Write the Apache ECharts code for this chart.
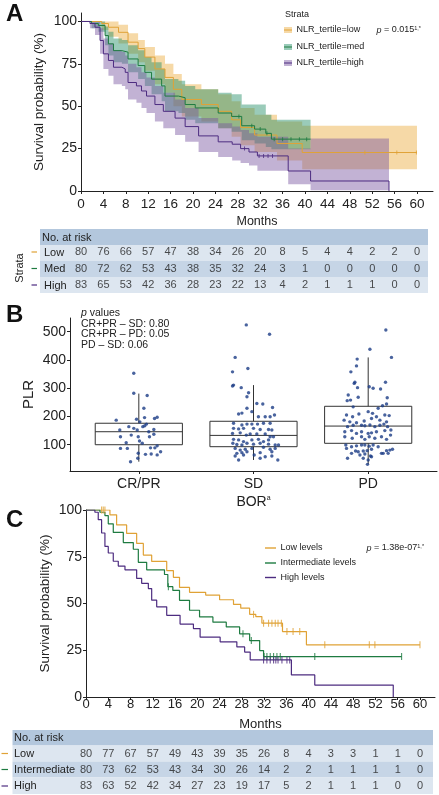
<!DOCTYPE html>
<html><head><meta charset="utf-8">
<script src="https://cdn.jsdelivr.net/npm/echarts@6/dist/echarts.min.js"></script>
<style>html,body{margin:0;padding:0;background:#fff}#c{width:439px;height:795px}</style>
</head><body><div id="c"></div>
<script>
// ---------- shared ----------
const monthTicks = [0,4,8,12,16,20,24,28,32,36,40,44,48,52,56,60];

// ---------- Panel A: KM by NLR tertile (with CI bands) ----------
const aLowTime  = [0,3.7,4.9,6.7,8.4,10.2,11.4,13.2,15,16.5,18,21.5,24.5,26.9,28.5,31,35,39.5,60];
const aLowSurv  = [100,98.8,96.6,93.6,87.8,84,79,72,67,60,54,51,47,42,37.5,33,28,22.7,22.7];
const aLowUpper = [100,100,100,98,93,89,85,80,75,69,63,60,57,53,49,45,41,38.5,38.5];
const aLowLower = [100,95,91,87,81,76,71,63,58,50,44,41,37,32,27,23,18,12.8,12.8];

const aMedTime  = [0,1.9,3.1,4.3,4.9,5.8,7.3,8.4,10.2,11.4,12.6,14.4,15,17.4,18.6,20.4,24.5,26.9,28.7,31,33,34,41];
const aMedSurv  = [100,98.8,97.6,91.7,86.8,82.8,81.9,77.9,74,70,66,62,56,55,51,49,46,44,38.5,36.5,34,30.6,30.6];
const aMedUpper = [100,100,100,97,94,90,89,86,83,79,76,72,66,65,62,60,58,57,51,51,45,42,42];
const aMedLower = [100,96,94,86,80,76,75,70,66,62,57,53,47,46,42,40,37,35,30,28,26,24.7,24.7];

const aHighTime  = [0,1.6,2.5,3.4,4,4.9,5.8,7.3,7.9,8.4,9.9,10.8,11.7,13.2,14.7,16.8,18.6,21,24.5,27,28.5,30,31.5,37,41,55];
const aHighSurv  = [100,98.8,96.6,88.8,80.9,77,73,72,70,64,62,59,56,51,47,43,38,32.5,29,27.6,25,23,20.7,11.8,5.9,0];
const aHighUpper = [100,100,100,96,90,87,83,82,80,75,73,70,67,62,58,54,49,43,40,38,36,34,32,25,31,31];
const aHighLower = [100,96,92,81,72,68,63,62,60,54,52,49,46,41,37,33,29,23,20,18,16.5,15,12,4,0.5,0];

const aLowCens  = [50.7,56.4,59.9];
const aMedCens  = [28.2,30.5,32,33.2,34.5,36,37.5,39,40.3];
const aHighCens = [29.2,31.8,32.6,33.4,34.2];

const riskALow  = [80,76,66,57,47,38,34,26,20,8,5,4,4,2,2,0];
const riskAMed  = [80,72,62,53,43,38,35,32,24,3,1,0,0,0,0,0];
const riskAHigh = [83,65,53,42,36,28,23,22,13,4,2,1,1,1,0,0];

// ---------- Panel B: PLR by best overall response ----------
const bCats = ['CR/PR','SD','PD'];
// [min, Q1, median, Q3, max]
const bBoxCRPR = [40,100,146,176,281];
const bBoxSD   = [46,93,133,183,311];
const bBoxPD   = [31,105,166,236,409];

const crprPLR = [353,282,274,229,187,190,181,196,193,197,164,152,158,152,164,167,173,146,154,128,134,128,128,137,107,113,105,89,89,87,87,96,70,66,67,64,75,52,40];
const crprJit = [-0.044,-0.044,0.073,0.044,-0.197,-0.02,0.009,0.05,0.137,0.16,-0.087,-0.166,-0.044,-0.014,0.035,0.052,0.067,0.087,0.131,-0.16,-0.066,-0.005,0.093,0.131,-0.11,0.006,0.03,0.102,0.14,-0.1,-0.16,0.16,-0.005,0.058,0.108,0.16,0.19,-0.009,-0.072];

const sdPLR = [524,491,409,370,358,311,308,302,284,270,246,244,232,229,209,212,217,199,199,199,205,176,170,173,173,173,176,176,158,156,158,158,154,154,152,140,142,134,138,138,138,128,128,119,117,111,117,119,111,117,105,101,99,105,102,105,102,99,99,87,81,84,87,91,84,87,69.5,72,75,72,75,60,63.5,63.5,57.5,60,46,52,46];
const sdJit = [-0.063,0.14,-0.16,-0.049,-0.183,-0.174,-0.183,-0.107,-0.043,-0.057,0.029,0.081,0.166,-0.057,-0.13,-0.101,-0.014,0.043,0.102,0.145,0.183,-0.174,-0.101,-0.057,-0.014,0.035,0.087,0.145,-0.174,-0.13,-0.087,0,0.058,0.131,0.16,-0.183,-0.116,-0.063,-0.029,0.029,0.102,0.145,0.174,-0.174,-0.13,-0.087,-0.014,0.043,0.087,0.131,-0.18,-0.145,-0.101,-0.057,0,0.058,0.131,0.189,0.218,-0.16,-0.116,-0.072,-0.014,0.087,0.145,0.189,-0.145,-0.101,-0.057,0.058,0.16,-0.16,-0.087,0.006,0.102,0.16,-0.13,0.058,0.212];

const pdPLR = [506,438,409,403,379,358,321,317,321,302,305,300,297,276,268,266,256,258,244,234,238,229,205,199,209,217,211,199,205,203,187,181,178,184,193,187,181,164,169,169,167,170,164,169,173,164,146,150,140,146,140,142,146,150,152,134,128,123,128,119,128,123,128,119,99,93,96,99,99,95,99,93,87,78,75,78,79,84,69.5,79,81,69.5,63.5,67,60,69.5,69.5,84,52,52,46,57.5,30.6];
const pdJit = [0.154,0.015,0.203,-0.096,-0.102,-0.151,-0.116,-0.122,0.151,-0.093,0.009,0.043,0.108,-0.174,-0.087,0.166,-0.183,-0.154,0.16,-0.131,0.125,0.087,-0.189,-0.136,-0.081,0,0.038,0.072,0.145,0.183,-0.21,-0.16,-0.102,-0.035,0.029,0.102,0.16,-0.18,-0.131,-0.058,-0.029,0.015,0.058,0.102,0.137,0.169,-0.204,-0.145,-0.102,-0.058,0,0.029,0.072,0.145,0.198,0.195,-0.204,-0.139,-0.058,-0.029,0.009,0.058,0.116,0.16,-0.195,-0.145,-0.102,-0.058,-0.029,0.009,0.043,0.087,-0.189,-0.11,-0.087,-0.043,-0.009,0.029,0.116,0.16,0.189,-0.145,-0.072,-0.029,0.02,0.131,0.174,0.212,-0.18,-0.043,0,0.029,-0.006];

// ---------- Panel C: KM by levels ----------
const cLowTime = [0,4.3,5.5,7.3,9.1,10.3,11.8,14.5,15.7,16.8,18.6,21.5,24,26.5,27.8,29.4,30.5,31.6,35.3,39.6,60];
const cLowSurv = [100,97.4,92,87.5,82.1,75.9,72.5,67.6,64,58.6,56,54.5,52,49.5,47.5,44.2,43,39.5,35,27.9,27.9];
const cIntTime = [0,2.5,3.4,4,4.9,6.7,8.5,9.4,10.9,14.1,14.7,15.6,16.8,18.6,20.4,22.8,25.2,27.6,29.4,31.2,31.9,56.7];
const cIntSurv = [100,98.8,97,92.6,88,82.6,79,72,68,65.5,59,57,51.7,46.4,42.8,40,37.5,33.8,30.2,24.8,21.6,21.6];
const cHighTime = [0,1.6,2.2,2.8,3.4,4,4.9,5.8,7,9.1,10,11.2,11.8,12.7,14.5,16.9,19.3,20.5,24.1,27.1,28.5,29.5,36.9,41.1,55.2];
const cHighSurv = [100,98.8,94.8,87.7,80.5,77,72.6,70,68,63.4,60.8,58,51.8,48.2,43.7,39,36.6,32,29.5,26.8,24,19.8,11.8,6.4,0];

const cLowCens  = [2.8,3.1,3.4,30.1,31.9,32.8,33.4,34,34.5,35.1,36.1,37.2,38.4,42.9,50.9,51.9,60];
const cIntCens  = [14.8,28.2,29.7,32.0,32.5,33.1,33.7,34.3,34.9,41.1,56.7];
const cHighCens = [31.9,32.5,33.1,33.7,34.1,34.5,35.2,36.1,36.6];

const riskCLow  = [80,77,67,57,49,43,39,35,26,8,4,3,3,1,1,0];
const riskCInt  = [80,73,62,53,43,34,30,26,14,2,2,1,1,1,1,0];
const riskCHigh = [83,63,52,42,34,27,23,19,17,5,2,1,1,1,0,0];

// ---------- styling ----------
const F = "'Liberation Sans', Arial, Helvetica, sans-serif";
const INK = '#222';
const colLow = '#E0A236', colMed = '#1E7B41', colHigh = '#4D2C80';
const bandLow = 'rgba(236,170,60,0.45)', bandMed = 'rgba(30,140,100,0.45)', bandHigh = 'rgba(120,85,160,0.45)';

function stepAt(ts, ss, t){ let v = ss[0]; for (let i=0;i<ts.length;i++){ if (ts[i] <= t) v = ss[i]; } return v; }
function pairs(ts, ss){ return ts.map((t,i)=>[t, ss[i]]); }

const axLine = {show:true, onZero:false, lineStyle:{color:INK, width:1}};
function tick(cv){ const o = {show:true, length:3, lineStyle:{color:INK, width:1}}; if (cv) o.customValues = cv; return o; }
function lab(cv, size, margin, fmt){ const o = {color:INK, fontSize:size, fontFamily:F, margin:margin}; if (cv) o.customValues = cv; if (fmt) o.formatter = fmt; return o; }
const nameStyle = (s)=>({fontSize:s, color:INK, fontFamily:F});

const series = [];
// Panel A confidence bands: step polygons built through the axis scales
const bandDefs = [
  {t:aLowTime, lo:aLowLower, up:aLowUpper, col:bandLow},
  {t:aMedTime, lo:aMedLower, up:aMedUpper, col:bandMed},
  {t:aHighTime, lo:aHighLower, up:aHighUpper, col:bandHigh}
];
series.push({type:'custom', name:'bands', xAxisIndex:0, yAxisIndex:0, silent:true, z:1,
  data: bandDefs.map((b,i)=>[i, 50]),
  renderItem:(params, api)=>{
    const b = bandDefs[api.value(0)];
    const pts = [];
    for (let j=0;j<b.t.length-1;j++){ pts.push(api.coord([b.t[j], b.up[j]])); pts.push(api.coord([b.t[j+1], b.up[j]])); }
    for (let j=b.t.length-2;j>=0;j--){ pts.push(api.coord([b.t[j+1], b.lo[j]])); pts.push(api.coord([b.t[j], b.lo[j]])); }
    return {type:'polygon', shape:{points:pts}, style:{fill:b.col, stroke:null}};
  }
});

function km(name, ts, ss, col, xi, w){
  series.push({type:'line', name, xAxisIndex:xi, yAxisIndex:xi, step:'end', symbol:'none', silent:true,
    lineStyle:{color:col, width:w}, data: pairs(ts, ss), z:3});
}
function cens(name, cs, ts, ss, col, xi, size){
  series.push({type:'scatter', name, xAxisIndex:xi, yAxisIndex:xi, symbol:'rect', symbolSize:size, silent:true,
    itemStyle:{color:col}, data: cs.map(t=>[t, stepAt(ts, ss, t)]), z:4});
}
km('NLR_tertile=low', aLowTime, aLowSurv, colLow, 0, 1);
km('NLR_tertile=med', aMedTime, aMedSurv, colMed, 0, 1);
km('NLR_tertile=high', aHighTime, aHighSurv, colHigh, 0, 1);
cens('aLowC', aLowCens, aLowTime, aLowSurv, colLow, 0, [1,4]);
cens('aMedC', aMedCens, aMedTime, aMedSurv, colMed, 0, [1,4]);
cens('aHighC', aHighCens, aHighTime, aHighSurv, colHigh, 0, [1,4]);

function riskRow(name, row, vals, xi){
  series.push({type:'scatter', name, xAxisIndex:xi, yAxisIndex:xi, symbolSize:2, silent:true,
    itemStyle:{color:'rgba(0,0,0,0)'}, data: vals.map((n,i)=>[monthTicks[i], row, n]),
    label:{show:true, position:'inside', formatter:p=>String(p.value[2]), color:INK, fontSize:11, fontFamily:F}, z:5});
}
riskRow('rA1','Low',riskALow,1); riskRow('rA2','Med',riskAMed,1); riskRow('rA3','High',riskAHigh,1);

// Panel B boxes
const bBoxes = [bBoxCRPR, bBoxSD, bBoxPD];
series.push({type:'custom', name:'box', xAxisIndex:2, yAxisIndex:2, silent:true, z:2,
  data: bBoxes.map((b,i)=>[i+1].concat(b)),
  encode:{x:0, y:[1,2,3,4,5]},
  renderItem:(params, api)=>{
    const x = api.value(0);
    const lo = api.coord([x, api.value(1)]), q1 = api.coord([x, api.value(2)]), md = api.coord([x, api.value(3)]),
          q3 = api.coord([x, api.value(4)]), hi = api.coord([x, api.value(5)]);
    const w = api.size([0.76, 0])[0], h = w/2;
    const st = {stroke:'#333', lineWidth:1, fill:null};
    return {type:'group', children:[
      {type:'line', shape:{x1:hi[0], y1:hi[1], x2:q3[0], y2:q3[1]}, style:st},
      {type:'line', shape:{x1:q1[0], y1:q1[1], x2:lo[0], y2:lo[1]}, style:st},
      {type:'rect', shape:{x:q3[0]-h, y:q3[1], width:w, height:q1[1]-q3[1]}, style:{stroke:'#333', lineWidth:1, fill:'rgba(0,0,0,0)'}},
      {type:'line', shape:{x1:md[0]-h, y1:md[1], x2:md[0]+h, y2:md[1]}, style:st}
    ]};
  }
});
const bPoints = [].concat(
  crprPLR.map((v,i)=>[1+crprJit[i], v]),
  sdPLR.map((v,i)=>[2+sdJit[i], v]),
  pdPLR.map((v,i)=>[3+pdJit[i], v]));
series.push({type:'scatter', name:'PLR', xAxisIndex:2, yAxisIndex:2, symbolSize:3.4, silent:true,
  itemStyle:{color:'#1B3C86'}, data:bPoints, z:3});

// Panel C
km('Low levels', cLowTime, cLowSurv, colLow, 3, 1.2);
km('Intermediate levels', cIntTime, cIntSurv, colMed, 3, 1.2);
km('High levels', cHighTime, cHighSurv, colHigh, 3, 1.2);
cens('cLowC', cLowCens, cLowTime, cLowSurv, colLow, 3, [1.1,7]);
cens('cIntC', cIntCens, cIntTime, cIntSurv, colMed, 3, [1.1,7]);
cens('cHighC', cHighCens, cHighTime, cHighSurv, colHigh, 3, [1.1,7]);
riskRow('rC1','Low',riskCLow,4); riskRow('rC2','Intermediate',riskCInt,4); riskRow('rC3','High',riskCHigh,4);

// ---------- graphic (legends, table backgrounds, labels) ----------
function T(x,y,text,o,rot){ const e = {type:'text', x, y, z:100, silent:true, style:Object.assign({text, fill:INK, fontSize:11, fontFamily:F, align:'left', verticalAlign:'middle'}, o||{})}; if (rot) e.rotation = rot; return e; }
function R(x,y,w,h,fill){ return {type:'rect', z:-10, silent:true, shape:{x,y,width:w,height:h}, style:{fill}}; }
function L(x1,y1,x2,y2,col,w){ return {type:'line', z:100, silent:true, shape:{x1,y1,x2,y2}, style:{stroke:col, lineWidth:w||1.2}}; }
const supRich = {i:{fontStyle:'italic', fontSize:9, fontFamily:F, fill:INK}, sup:{fontSize:5.5, fontFamily:F, fill:INK, verticalAlign:'top', lineHeight:9}, n:{fontSize:9, fontFamily:F, fill:INK}};
const g = [
  T(6,14,'A',{fontSize:24, fontWeight:'bold', fill:'#111'}),
  T(6,315,'B',{fontSize:24, fontWeight:'bold', fill:'#111'}),
  T(6,520,'C',{fontSize:24, fontWeight:'bold', fill:'#111'}),
  // legend A
  T(285,15,'Strata',{fontSize:9}),
  R(284,27,8,6,bandLow), L(284,30,292,30,colLow,1),
  R(284,44,8,6,bandMed), L(284,47,292,47,colMed,1),
  R(284,60,8,6,bandHigh), L(284,63,292,63,colHigh,1),
  T(296.5,30,'NLR_tertile=low',{fontSize:9}),
  T(296.5,47,'NLR_tertile=med',{fontSize:9}),
  T(296.5,63,'NLR_tertile=high',{fontSize:9}),
  T(376.5,30,'{i|p}{n| = 0.015}{sup|1,*}',{rich:supRich}),
  // table A
  R(40,229,388,16,'#b3c7dd'), R(40,245,388,16,'#dde6f0'), R(40,261,388,16,'#c6d5e6'), R(40,277,388,16,'#dde6f0'),
  T(42,237.5,'No. at risk'),
  T(44,252.5,'Low'), T(44,269,'Med'), T(44,285.5,'High'),
  L(31.5,252,37,252,colLow,1.2), L(31.5,268.5,37,268.5,colMed,1.2), L(31.5,285,37,285,colHigh,1.2),
  T(20,268,'Strata',{align:'center'},Math.PI/2),
  // B p-values
  T(81,313.5,'{i|p}{n| values}',{rich:{i:{fontStyle:'italic',fontSize:10.5,fontFamily:F,fill:INK},n:{fontSize:10.5,fontFamily:F,fill:INK}}}),
  T(81,324,'CR+PR \u2013 SD: 0.80',{fontSize:10.5}),
  T(81,334.5,'CR+PR \u2013 PD: 0.05',{fontSize:10.5}),
  T(81,345,'PD \u2013 SD: 0.06',{fontSize:10.5}),
  // legend C
  L(265,548,276,548,colLow,1.4), L(265,563,276,563,colMed,1.4), L(265,577.5,276,577.5,colHigh,1.4),
  T(280.5,548,'Low levels',{fontSize:9}),
  T(280.5,563,'Intermediate levels',{fontSize:9}),
  T(280.5,577.5,'High levels',{fontSize:9}),
  T(366.5,548,'{i|p}{n| = 1.38e-07}{sup|1,*}',{rich:supRich}),
  // table C
  R(12.5,730,420.5,15.5,'#b3c7dd'), R(12.5,745.5,420.5,16,'#dde6f0'), R(12.5,761.5,420.5,16,'#c6d5e6'), R(12.5,777.5,420.5,16.5,'#dde6f0'),
  T(14,738,'No. at risk'),
  T(14,753.5,'Low'), T(14,769.5,'Intermediate'), T(14,786,'High'),
  L(1.5,753.5,8,753.5,colLow,1.2), L(1.5,769.5,8,769.5,colMed,1.2), L(1.5,786,8,786,colHigh,1.2)
];

const hidden = (gi, max)=>({type:'value', gridIndex:gi, min:0, max:max, show:false});
const option = {
  animation:false,
  backgroundColor:'#fff',
  grid:[
    {left:81, top:13, width:352, height:178, outerBoundsMode:'none', containLabel:false},
    {left:81, top:244, width:352, height:49.5, outerBoundsMode:'none', containLabel:false},
    {left:70, top:318, width:367, height:153, outerBoundsMode:'none', containLabel:false},
    {left:86, top:510, width:349, height:187, outerBoundsMode:'none', containLabel:false},
    {left:86, top:746, width:349, height:48, outerBoundsMode:'none', containLabel:false}
  ],
  xAxis:[
    {type:'value', gridIndex:0, min:0, max:62.86, axisLine:axLine, axisTick:tick(monthTicks), axisLabel:lab(monthTicks,13.5,6), splitLine:{show:false},
      name:'Months', nameLocation:'middle', nameGap:24, nameTextStyle:nameStyle(12.5), nameMoveOverlap:false},
    hidden(1, 62.86),
    {type:'value', gridIndex:2, min:0.4, max:3.6, axisLine:axLine, axisTick:tick([1,2,3]), axisLabel:lab([1,2,3],14,6,v=>bCats[Math.round(v)-1]), splitLine:{show:false},
      name:'BOR{sup|a}', nameLocation:'middle', nameGap:24, nameMoveOverlap:false,
      nameTextStyle:{fontSize:14, color:INK, fontFamily:F, rich:{sup:{fontSize:7, color:INK, fontFamily:F, verticalAlign:'top', lineHeight:14}}}},
    {type:'value', gridIndex:3, min:0, max:62.7, axisLine:axLine, axisTick:tick(monthTicks), axisLabel:lab(monthTicks,13,1), splitLine:{show:false},
      name:'Months', nameLocation:'middle', nameGap:21, nameTextStyle:nameStyle(13), nameMoveOverlap:false},
    hidden(4, 62.7)
  ],
  yAxis:[
    {type:'value', gridIndex:0, min:0, max:105, axisLine:axLine, axisTick:tick([0,25,50,75,100]), axisLabel:lab([0,25,50,75,100],14,4), splitLine:{show:false},
      name:'Survival probability (%)', nameLocation:'middle', nameGap:35, nameTextStyle:nameStyle(13.5), nameMoveOverlap:false},
    {type:'category', gridIndex:1, data:['Low','Med','High'], inverse:true, show:false},
    {type:'value', gridIndex:2, min:7, max:548.5, axisLine:axLine, axisTick:tick([100,200,300,400,500]), axisLabel:lab([100,200,300,400,500],14,4), splitLine:{show:false},
      name:'PLR', nameLocation:'middle', nameGap:34, nameTextStyle:nameStyle(15), nameMoveOverlap:false},
    {type:'value', gridIndex:3, min:0, max:100, axisLine:axLine, axisTick:tick([0,25,50,75,100]), axisLabel:lab([0,25,50,75,100],14,4), splitLine:{show:false},
      name:'Survival probability (%)', nameLocation:'middle', nameGap:34, nameTextStyle:nameStyle(13.5), nameMoveOverlap:false},
    {type:'category', gridIndex:4, data:['Low','Intermediate','High'], inverse:true, show:false}
  ],
  graphic:g,
  series:series
};
const chart = echarts.init(document.getElementById('c'), null, {renderer:'canvas'});
chart.setOption(option);
</script></body></html>
